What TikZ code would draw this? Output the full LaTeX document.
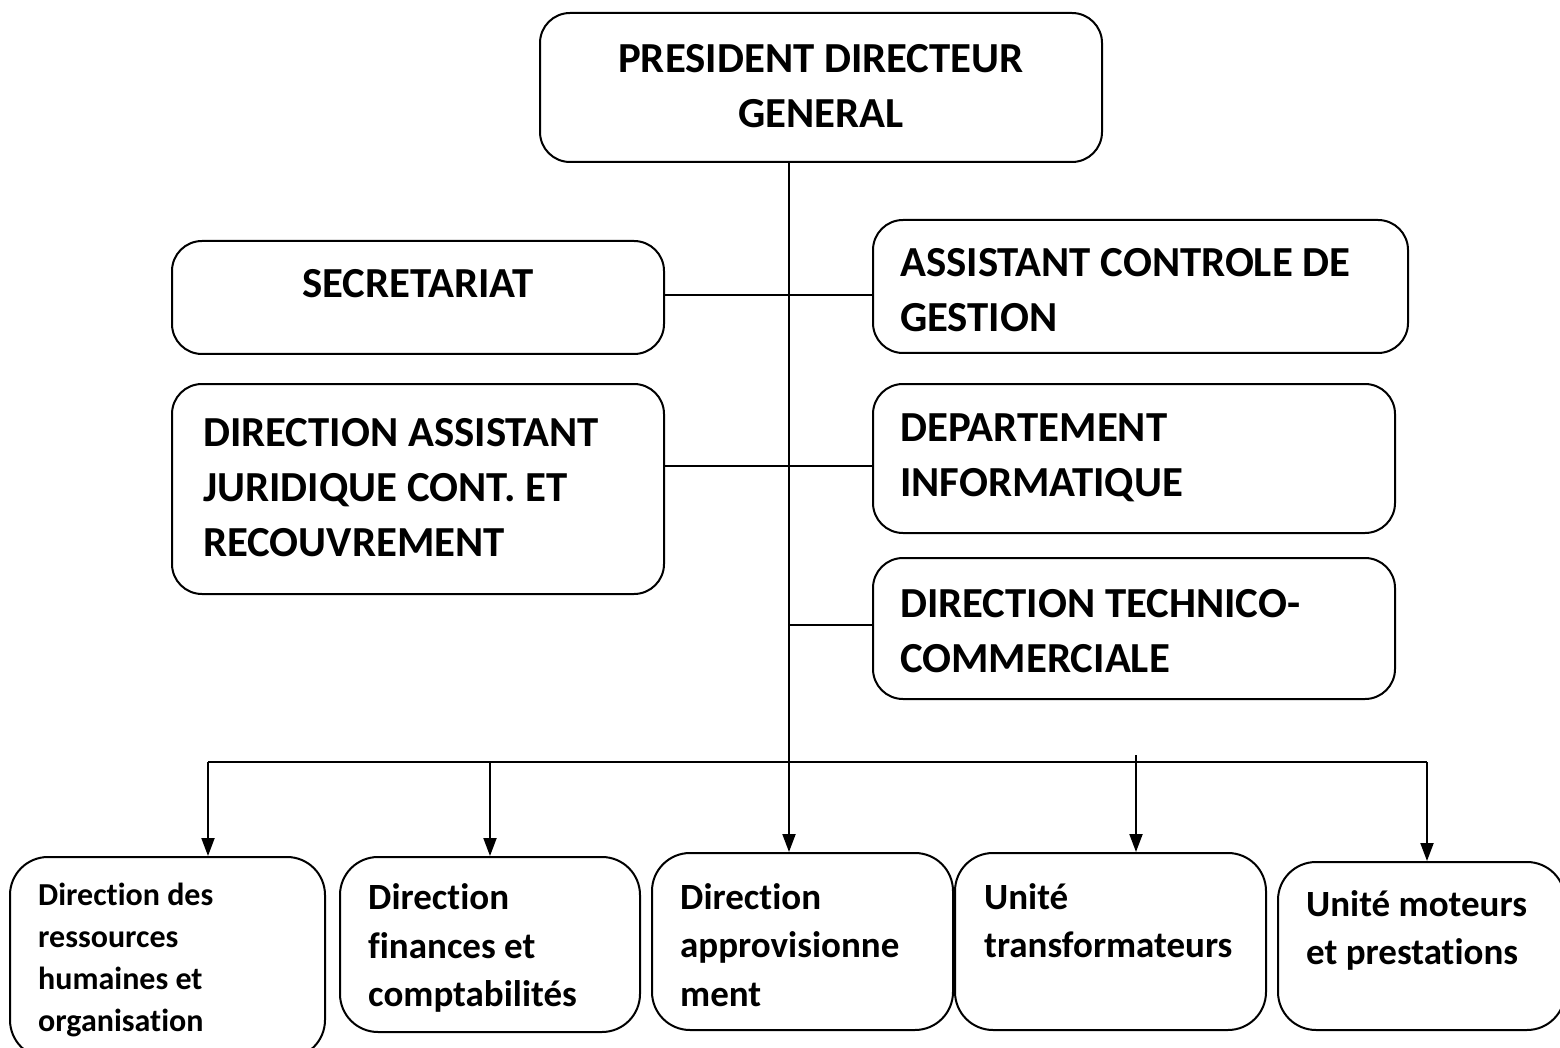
\documentclass[tikz,border=0pt]{standalone}
\usepackage{fontspec}
\setmainfont{Carlito}[Ligatures=NoCommon]
\usetikzlibrary{arrows.meta}
\begin{document}
\begin{tikzpicture}[x=1pt,y=-1pt,
  box/.style={draw, line width=2pt, rounded corners=30pt, inner sep=0pt},
  lowbox/.style={box, rounded corners=38pt},
  bigtxt/.style={font=\fontsize{42.8}{55}\selectfont\bfseries, inner sep=0pt, align=left, anchor=west},
  lowtxt/.style={font=\fontsize{37}{48.5}\selectfont\bfseries, inner sep=0pt, align=left, anchor=west},
  smalltxt/.style={font=\fontsize{32}{42}\selectfont\bfseries, inner sep=0pt, align=left, anchor=west},
  link/.style={line width=2pt},
  arr/.style={line width=2pt, -{Triangle[length=18pt,width=13pt]}}]
\useasboundingbox (0,0) rectangle (1560,1048);

% upper level
\node[box, minimum width=562pt, minimum height=149pt] (pdg) at (821,87.5) {};
\node[bigtxt, align=center, anchor=center] at (821,86) {PRESIDENT DIRECTEUR\\GENERAL};

\node[box, minimum width=492pt, minimum height=113pt] (sec) at (418,297.5) {};
\node[bigtxt, anchor=center] at (418,284) {SECRETARIAT};

\node[box, minimum width=535pt, minimum height=133pt] (acg) at (1140.5,286.5) {};
\node[bigtxt] at (900,290) {ASSISTANT CONTROLE DE\\GESTION};

\node[box, minimum width=492pt, minimum height=210pt] (daj) at (418,489) {};
\node[bigtxt] at (203,488) {DIRECTION ASSISTANT\\JURIDIQUE CONT. ET\\RECOUVREMENT};

\node[box, minimum width=522pt, minimum height=149pt] (dinf) at (1134,458.5) {};
\node[bigtxt] at (900,457.5) {DEPARTEMENT\\INFORMATIQUE};

\node[box, minimum width=522pt, minimum height=141pt] (dtc) at (1134,628.5) {};
\node[bigtxt] at (900,631) {DIRECTION TECHNICO-\\COMMERCIALE};

% lower level
\node[lowbox, minimum width=315pt, minimum height=201pt] (drh) at (167.5,957.5) {};
\node[smalltxt] at (38,960) {Direction des\\ressources\\humaines et\\organisation};

\node[lowbox, minimum width=300pt, minimum height=175pt] (dfc) at (490,944.5) {};
\node[lowtxt] at (368,948) {Direction\\finances et\\comptabilités};

\node[lowbox, minimum width=301pt, minimum height=177pt] (dap) at (802.5,941.5) {};
\node[lowtxt] at (680,945) {Direction\\approvisionne\\ment};

\node[lowbox, minimum width=311pt, minimum height=177pt] (utr) at (1110.5,941.5) {};
\node[lowtxt] at (984,920.5) {Unité\\transformateurs};

\node[lowbox, minimum width=287pt, minimum height=168pt] (ump) at (1421.5,946) {};
\node[lowtxt] at (1306,930.5) {Unité moteurs\\et prestations};

% connectors
\coordinate (trunk) at (789,162);
\coordinate (h1) at (0,295);
\coordinate (h2) at (0,466);
\coordinate (h3) at (0,625);
\coordinate (b1) at (208,762);
\coordinate (b5) at (1427,762);
\coordinate (b4) at (1136,755);

\draw[arr] (trunk |- pdg.south) -- (trunk |- dap.north);
\draw[link] (sec.east |- h1) -- (acg.west |- h1);
\draw[link] (daj.east |- h2) -- (dinf.west |- h2);
\draw[link] (trunk |- h3) -- (dtc.west |- h3);
\draw[link] (b1) -- (b5);
\draw[arr] (b1) -- (b1 |- drh.north);
\draw[arr] (dfc.north |- b1) -- (dfc.north);
\draw[arr] (b4) -- (b4 |- utr.north);
\draw[arr] (b5) -- (b5 |- ump.north);
\end{tikzpicture}
\end{document}
